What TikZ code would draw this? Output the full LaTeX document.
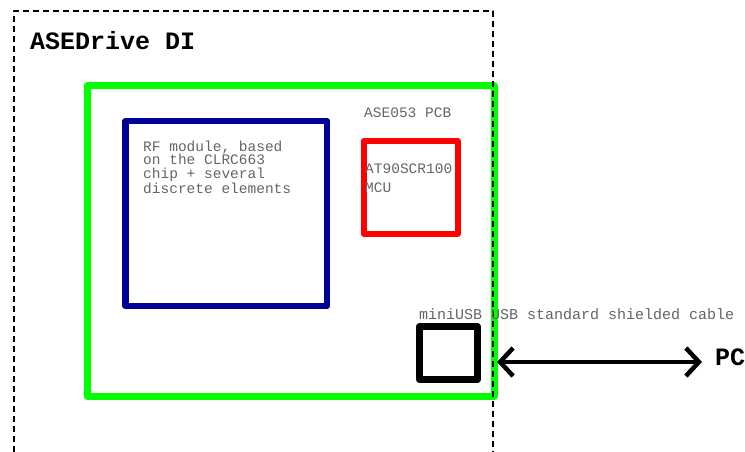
\documentclass[tikz,border=0pt]{standalone}
\usepackage{fontspec}
\setmonofont{Liberation Mono}
\usetikzlibrary{arrows.meta}
\definecolor{pcbgreen}{RGB}{0,255,0}
\definecolor{rfblue}{RGB}{0,0,150}
\definecolor{mcured}{RGB}{255,0,0}
\definecolor{labelgray}{RGB}{100,100,100}

\begin{document}
\begin{tikzpicture}[x=1pt,y=-1pt,line join=round,
		smalltext/.style={inner sep=0pt,anchor=base west,align=left,text=labelgray,font=\ttfamily\fontsize{14.5}{13.5}\selectfont},
		bigtext/.style={inner sep=0pt,anchor=base west,font=\ttfamily\bfseries\fontsize{25}{28}\selectfont}]

			\useasboundingbox (0,0) rectangle (745,452);

			\draw [line width=7pt,pcbgreen] (87,86) rectangle (494,396);
			\draw [line width=6.5pt,rfblue] (125.5,121) rectangle (327,306);
			\draw [line width=6pt,mcured] (363.5,141) rectangle (457.5,233.5);
			\draw [line width=7pt,black] (419.5,326.5) rectangle (477.5,379.5);

			\draw [-,line width=1.5pt,dash pattern=on 6pt off 4pt] (14,452) -- (14,11) -- (493,11) -- (493,452);

			\node[bigtext] (title) at (30,50) {ASEDrive DI};
			\node[smalltext] (pcb) at (364,117.5) {ASE053 PCB};
			\node[smalltext] (rf) at (143,193) {RF module, based\\on the CLRC663\\chip + several\\discrete elements};
			\node[smalltext,font=\ttfamily\fontsize{14.5}{19}\selectfont] (mcu) at (365,192) {AT90SCR100\\MCU};
			\node[smalltext,font=\ttfamily\fontsize{15}{15}\selectfont] (cablelabel) at (419,319) {miniUSB USB standard shielded cable};
			\node[bigtext] (pc) at (715,365) {PC};

			\coordinate (usbend) at (497,362);
			\coordinate (pcend) at (702,362);
			\draw [{Straight Barb[length=13pt,width=28pt]}-{Straight Barb[length=13pt,width=28pt]},line width=4.5pt] (usbend) -- (pcend);

	\end{tikzpicture}
\end{document}
